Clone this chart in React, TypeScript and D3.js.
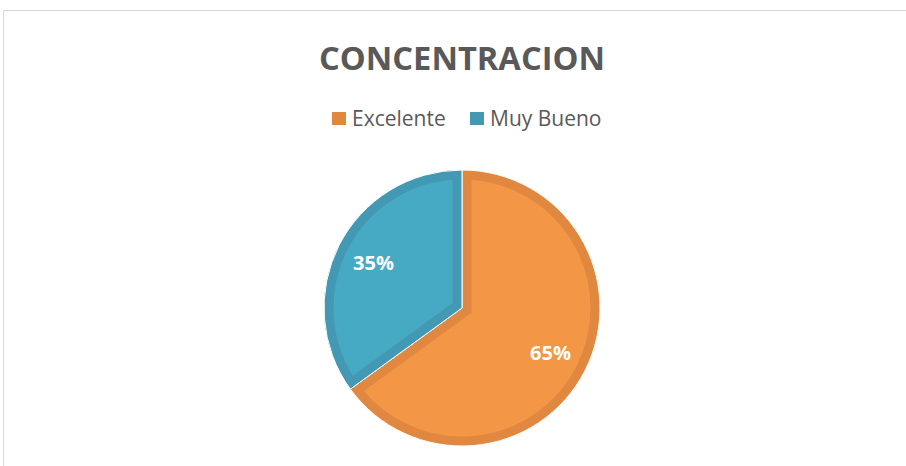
import { useEffect, useRef } from "react";
import * as d3 from "d3";

// chart data
const categories = ["Excelente", "Muy Bueno"];
const shares = [65, 35];
const fills = ["#F39646", "#47AAC4"];
const borders = ["#E0883F", "#4399B3"];

const App = () => {
  const svgRef = useRef<SVGSVGElement>(null);

  useEffect(() => {
    const width = 906;
    const height = 466;
    const cx = 462;
    const cy = 308;
    const radius = 138;

    const svg = d3.select(svgRef.current);
    svg.selectAll("*").remove();
    svg.attr("width", width).attr("height", height);

    // outer frame
    svg
      .append("rect")
      .attr("x", 3.5)
      .attr("y", 10.5)
      .attr("width", 920)
      .attr("height", 480)
      .attr("fill", "white")
      .attr("stroke", "#D9D9D9")
      .attr("stroke-width", 1);

    // title
    svg
      .append("text")
      .attr("x", cx)
      .attr("y", 70)
      .attr("text-anchor", "middle")
      .attr("font-family", "'Open Sans', sans-serif")
      .attr("font-weight", "bold")
      .attr("font-size", 33)
      .attr("textLength", 286)
      .attr("lengthAdjust", "spacingAndGlyphs")
      .attr("fill", "#595959")
      .text("CONCENTRACION");

    // legend
    const legendX = [332, 470];
    const legend = svg
      .selectAll(".legend")
      .data(categories)
      .enter()
      .append("g")
      .attr("class", "legend")
      .attr("transform", (_, i) => `translate(${legendX[i]},112)`);
    legend
      .append("rect")
      .attr("width", 14)
      .attr("height", 13)
      .attr("fill", (_, i) => borders[i]);
    legend
      .append("text")
      .attr("x", 20)
      .attr("y", 14)
      .attr("font-family", "'Open Sans', sans-serif")
      .attr("font-size", 21)
      .attr("fill", "#595959")
      .text((d) => d);

    // pie
    const pie = d3
      .pie<number>()
      .sort(null)
      .value((d) => d);
    const arcs = pie(shares);
    const arc = d3
      .arc<d3.PieArcDatum<number>>()
      .innerRadius(0)
      .outerRadius(radius);

    const g = svg.append("g").attr("transform", `translate(${cx},${cy})`);
    const defs = svg.append("defs");
    arcs.forEach((a, i) => {
      defs
        .append("clipPath")
        .attr("id", `slice-clip-${i}`)
        .append("path")
        .attr("d", arc(a));
    });

    const slices = g.selectAll(".slice").data(arcs).enter().append("g");
    slices
      .append("path")
      .attr("d", (d) => arc(d))
      .attr("fill", (_, i) => fills[i]);
    // darker inner border, kept inside each slice
    slices
      .append("path")
      .attr("d", (d) => arc(d))
      .attr("fill", "none")
      .attr("stroke", (_, i) => borders[i])
      .attr("stroke-width", 19)
      .attr("stroke-linejoin", "miter")
      .attr("clip-path", (_, i) => `url(#slice-clip-${i})`);
    slices
      .append("path")
      .attr("d", (d) => arc(d))
      .attr("fill", "none")
      .attr("stroke", "white")
      .attr("stroke-width", 1);

    // labels
    const labelArc = d3
      .arc<d3.PieArcDatum<number>>()
      .innerRadius(radius * 0.72)
      .outerRadius(radius * 0.72);
    g.selectAll(".label")
      .data(arcs)
      .enter()
      .append("text")
      .attr("transform", (d) => {
        const [x, y] = labelArc.centroid(d);
        return `translate(${x},${y})`;
      })
      .attr("dy", "0.35em")
      .attr("text-anchor", "middle")
      .attr("font-family", "'Open Sans', sans-serif")
      .attr("font-weight", "bold")
      .attr("font-size", 20)
      .attr("fill", "white")
      .text((d) => `${d.data}%`);
  }, []);

  return (
    <svg
      ref={svgRef}
      style={{ position: "absolute", left: 0, top: 0, display: "block" }}
    ></svg>
  );
};

export default App;
